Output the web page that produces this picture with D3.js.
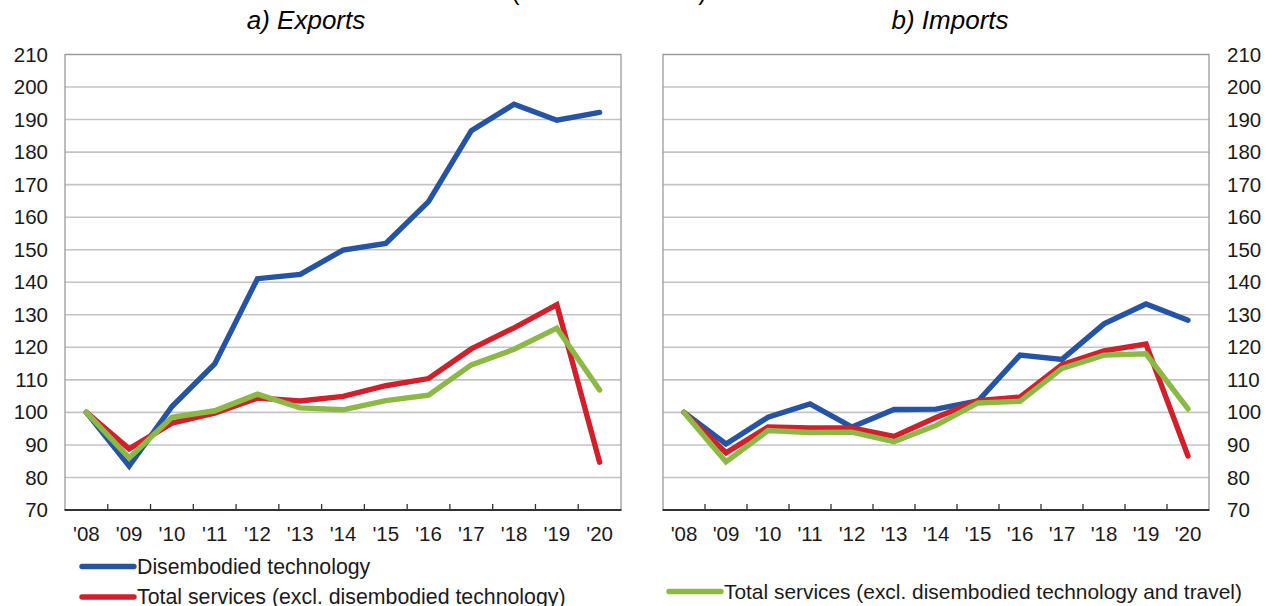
<!DOCTYPE html>
<html>
<head>
<meta charset="utf-8">
<script src="https://cdn.jsdelivr.net/npm/d3@7/dist/d3.min.js"></script>
<style>
  html, body { margin: 0; padding: 0; background: #fff; }
  svg { display: block; font-family: "Liberation Sans", Arial, sans-serif; }
</style>
</head>
<body>
<svg id="chart" width="1273" height="606"></svg>
<script>
// Years on the horizontal axis
const years = ["'08", "'09", "'10", "'11", "'12", "'13", "'14", "'15", "'16", "'17", "'18", "'19", "'20"];
// Y-axis tick values
const yTicks = [70, 80, 90, 100, 110, 120, 130, 140, 150, 160, 170, 180, 190, 200, 210];

// a) Exports, index 2008 = 100
const exportsTech     = [100, 83.5, 101.8, 114.9, 141.1, 142.4, 149.9, 151.9, 164.8, 186.6, 194.7, 189.8, 192.2];
const exportsServices = [100, 88.8, 96.7, 99.8, 104.4, 103.5, 104.9, 108.2, 110.4, 119.5, 126.0, 133.1, 84.7];
const exportsNoTravel = [100, 86.0, 98.5, 100.5, 105.6, 101.4, 100.8, 103.6, 105.3, 114.6, 119.4, 125.9, 106.9];

// b) Imports, index 2008 = 100
const importsTech     = [100, 90.3, 98.5, 102.6, 95.5, 100.9, 101.0, 103.5, 117.6, 116.3, 127.2, 133.3, 128.3];
const importsServices = [100, 87.6, 95.5, 95.2, 95.2, 92.6, 98.4, 103.6, 104.7, 114.7, 118.9, 121.0, 86.6];
const importsNoTravel = [100, 84.8, 94.4, 93.8, 93.9, 91.0, 96.0, 102.9, 103.4, 113.5, 117.6, 118.0, 101.1];

const seriesNames = [
  "Disembodied technology",
  "Total services (excl. disembodied technology)",
  "Total services (excl. disembodied technology and travel)"
];
const colors = ["#2553a5", "#d21f2c", "#8cb845"];

const svg = d3.select("#chart");

// Heading above the panels (runs off the top edge)
svg.append("text")
  .attr("x", 609).attr("y", 0)
  .attr("text-anchor", "middle")
  .style("font-size", "25px")
  .text("(index 2008=100)");

const yTop = 54.5, yBottom = 510;
const y = d3.scaleLinear().domain([70, 210]).range([yBottom, yTop]);

function panel(opts) {
  const { x0, x1, title, titleX, data, axisSide } = opts;
  const g = svg.append("g");
  const x = d3.scaleBand().domain(years).range([x0, x1]).paddingInner(0).paddingOuter(0);

  // horizontal gridlines
  g.append("g").selectAll("line")
    .data(yTicks.filter(t => t > 70 && t < 210))
    .join("line")
    .attr("x1", x0).attr("x2", x1)
    .attr("y1", d => y(d)).attr("y2", d => y(d))
    .attr("stroke", "#c3c3c3").attr("stroke-width", 1.6);

  // plot frame (top, left, right)
  g.append("path")
    .attr("d", `M${x0},${yBottom}V${yTop}H${x1}V${yBottom}`)
    .attr("fill", "none").attr("stroke", "#9a9a9a").attr("stroke-width", 1.3);

  // y axis labels
  const yAxis = (axisSide === "left" ? d3.axisLeft(y) : d3.axisRight(y))
    .tickValues(yTicks).tickSize(0).tickPadding(axisSide === "left" ? 17 : 18);
  const ya = g.append("g")
    .attr("transform", `translate(${axisSide === "left" ? x0 : x1},0)`)
    .call(yAxis);
  ya.select(".domain").remove();
  ya.selectAll("text").style("font-size", "20.5px").attr("fill", "#1a1a1a");

  // x axis with labels under band centres
  const xAxis = d3.axisBottom(x).tickSize(0).tickPadding(16);
  const xa = g.append("g").attr("transform", `translate(0,${yBottom})`).call(xAxis);
  xa.select(".domain").remove();
  xa.selectAll("text").style("font-size", "20.5px").attr("fill", "#1a1a1a");

  // category boundary ticks, pointing up into the plot
  g.append("g").selectAll("line")
    .data(years.slice(1))
    .join("line")
    .attr("x1", d => x(d)).attr("x2", d => x(d))
    .attr("y1", yBottom).attr("y2", yBottom - 6)
    .attr("stroke", "#333").attr("stroke-width", 1.3);

  // bottom axis line
  g.append("line")
    .attr("x1", x0 - 0.5).attr("x2", x1 + 0.5)
    .attr("y1", yBottom).attr("y2", yBottom)
    .attr("stroke", "#333").attr("stroke-width", 2);

  // series lines
  const line = d3.line()
    .x((d, i) => x(years[i]) + x.bandwidth() / 2)
    .y(d => y(d));
  data.forEach((vals, k) => {
    g.append("path")
      .datum(vals)
      .attr("d", line)
      .attr("fill", "none")
      .attr("stroke", colors[k])
      .attr("stroke-width", 5.4)
      .attr("stroke-linecap", "round")
      .attr("stroke-linejoin", "miter");
  });

  // panel title
  svg.append("text")
    .attr("x", titleX).attr("y", 29)
    .attr("text-anchor", "middle")
    .style("font-size", "26px").style("font-style", "italic")
    .text(title);
}

panel({ x0: 65, x1: 621, title: "a) Exports", titleX: 306,
        data: [exportsTech, exportsServices, exportsNoTravel], axisSide: "left" });
panel({ x0: 663, x1: 1209, title: "b) Imports", titleX: 950,
        data: [importsTech, importsServices, importsNoTravel], axisSide: "right" });

// legend
const legendItems = [
  { i: 0, x: 82, y: 566.5, size: 21.3 },
  { i: 1, x: 82, y: 597, size: 21.3 },
  { i: 2, x: 669, y: 591.5, size: 20.9 }
];
const lg = svg.append("g");
legendItems.forEach(it => {
  lg.append("line")
    .attr("x1", it.x).attr("x2", it.x + 52)
    .attr("y1", it.y).attr("y2", it.y)
    .attr("stroke", colors[it.i]).attr("stroke-width", 5.4)
    .attr("stroke-linecap", "round");
  lg.append("text")
    .attr("x", it.x + 55).attr("y", it.y + 7)
    .style("font-size", it.size + "px").attr("fill", "#1a1a1a")
    .text(seriesNames[it.i]);
});
</script>
</body>
</html>
